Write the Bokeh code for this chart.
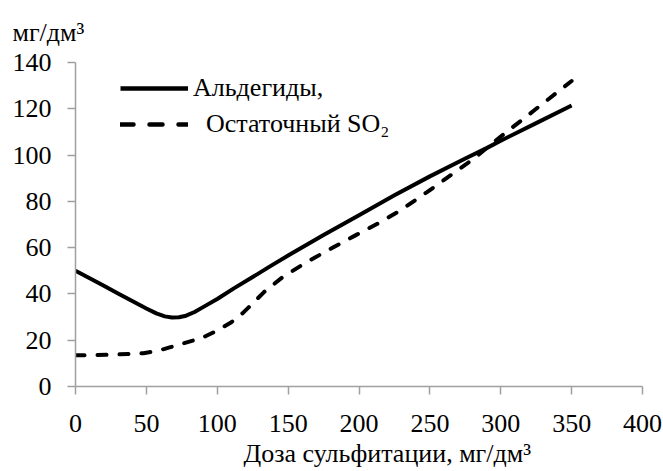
from bokeh.plotting import figure
from bokeh.models import Range1d, Legend, LegendItem, FixedTicker, Title
from bokeh.embed import file_html
from bokeh.resources import INLINE

# Data
ald_x = [0, 10, 20, 30, 40, 50, 57, 63, 68, 73, 78, 84, 90, 100, 112, 125, 137.5,
         150, 175, 200, 225, 250, 275, 290, 300, 325, 350]
ald_y = [50, 46.8, 43.5, 40.2, 36.9, 33.7, 31.6, 30.3, 29.8, 29.9, 30.6, 32.2, 34.3,
         37.8, 42.5, 47.3, 52, 56.6, 65.5, 74, 82.6, 90.8, 98.5, 103, 106.2, 113.8, 121.4]

so2_x = [0, 25, 48, 58, 67, 75, 83, 92, 100, 110, 118.5, 126, 133, 146, 163, 180,
         197.5, 215, 229, 248, 264.5, 281, 290, 300, 325, 350]
so2_y = [13.5, 13.7, 14.4, 15.4, 17, 18.4, 19.9, 21.8, 24.2, 27.8, 32, 36.5, 40.8,
         47.2, 53.7, 59.5, 65.3, 71, 76, 84, 91.2, 98.4, 103, 108, 120, 132]

x_ticks = [0, 50, 100, 150, 200, 250, 300, 350, 400]
y_ticks = [0, 20, 40, 60, 80, 100, 120, 140]

label_ald = "Альдегиды,"
label_so2 = "\u00a0\u00a0Остаточный SO\u2082"
x_title = "Доза сульфитации, мг/дм³"
y_unit = "мг/дм³"

FONT = "Liberation Serif"
FS = "26px"
AXIS_COLOR = "#a0a0a0"
NAN = float("nan")

p = figure(width=663, height=471, output_backend="svg", toolbar_location=None,
           x_range=Range1d(0, 400), y_range=Range1d(0, 140),
           min_border_left=75, min_border_right=21, min_border_top=62,
           min_border_bottom=85)
p.outline_line_color = None
p.xgrid.visible = False
p.ygrid.visible = False

r1 = p.line(ald_x, ald_y, line_color="black", line_width=4, line_join="round")
r2 = p.line(so2_x, so2_y, line_color="black", line_width=4, line_dash="9 13",
            line_cap="round")

# legend-only proxies (a single NaN point draws nothing) with the legend's stroke styles
r1_leg = p.line(x=[NAN], y=[NAN], line_color="black", line_width=4.5)
r2_leg = p.line(x=[NAN], y=[NAN], line_color="black", line_width=4.5,
                line_dash="13 16", line_cap="round")

for ax in (p.xaxis[0], p.yaxis[0]):
    ax.axis_line_color = AXIS_COLOR
    ax.axis_line_width = 1.5
    ax.major_tick_line_color = AXIS_COLOR
    ax.major_tick_line_width = 1.5
    ax.major_tick_out = 8
    ax.major_tick_in = 0
    ax.minor_tick_line_color = None
    ax.major_label_text_font = FONT
    ax.major_label_text_font_size = FS
    ax.major_label_text_color = "black"

p.xaxis.ticker = FixedTicker(ticks=x_ticks)
p.yaxis.ticker = FixedTicker(ticks=y_ticks)
p.xaxis.major_label_standoff = 20
p.yaxis.major_label_standoff = 16

xt = Title(text=x_title, align="left", offset=168, standoff=4,
           text_font=FONT, text_font_size=FS, text_font_style="normal",
           text_color="black")
p.add_layout(xt, "below")

legend = Legend(items=[LegendItem(label=label_ald, renderers=[r1_leg]),
                       LegendItem(label=label_so2, renderers=[r2_leg])],
                location=(45, 247), orientation="vertical",
                glyph_width=68, glyph_height=20, label_standoff=5,
                label_text_font=FONT, label_text_font_size=FS,
                label_text_color="black", spacing=6, padding=0, margin=0,
                border_line_color=None, background_fill_alpha=0,
                label_text_baseline="middle")
p.add_layout(legend)

p.title.text = y_unit
p.title.align = "left"
p.title.offset = -63
p.title.standoff = 31
p.title.text_font = FONT
p.title.text_font_size = FS
p.title.text_font_style = "normal"
p.title.text_color = "black"

open("out.html", "w").write(file_html(p, INLINE))
